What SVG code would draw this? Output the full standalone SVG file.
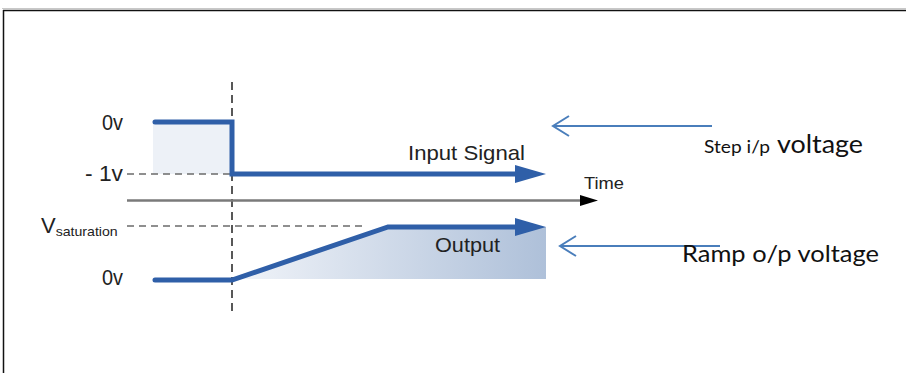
<svg xmlns="http://www.w3.org/2000/svg" width="906" height="373" viewBox="0 0 906 373">
<defs>
<linearGradient id="outGrad" x1="232" y1="0" x2="547" y2="0" gradientUnits="userSpaceOnUse">
<stop offset="0" stop-color="#f1f4f9"/>
<stop offset="1" stop-color="#aec0d9"/>
</linearGradient>
<style>
.lbl{font-family:"Liberation Sans",Arial,sans-serif;fill:#222;}
.note{font-family:Lato,"Open Sans",sans-serif;fill:#111;}
.sig{fill:none;stroke:#2f5fa8;stroke-width:5;stroke-linejoin:miter;stroke-linecap:round;}
.head{fill:#2f5fa8;}
.guide{fill:none;stroke:#6b6b6b;stroke-width:1.6;stroke-dasharray:7 5;}
.ptr{fill:none;stroke:#4a7ebb;stroke-width:2;}
</style>
</defs>
<rect width="906" height="373" fill="#fff"/>
<g id="frame">
<line x1="2" y1="8.5" x2="906" y2="8.5" stroke="#c8c8c8" stroke-width="1"/>
<line x1="3" y1="10.5" x2="906" y2="10.5" stroke="#111" stroke-width="1.5"/>
<line x1="3.5" y1="10" x2="3.5" y2="373" stroke="#111" stroke-width="1.5"/>
</g>
<g id="fills">
<rect x="153" y="122" width="79" height="52" fill="#edf1f7"/>
<polygon points="232,280 388,227 546,227 546,279 232,279" fill="url(#outGrad)"/>
</g>
<g id="connectors">
<line class="guide" x1="127" y1="174" x2="232" y2="174"/>
<line class="guide" x1="127" y1="226" x2="366" y2="226"/>
<line x1="232" y1="82" x2="232" y2="313" stroke="#222" stroke-width="1.5" stroke-dasharray="8 5"/>
<line x1="127" y1="200.5" x2="582" y2="200.5" stroke="#7a7a7a" stroke-width="2.5"/>
<polygon points="580,195 598,200.5 580,206" fill="#000"/>
</g>
<g id="input-signal">
<polyline class="sig" points="155,122 232,122 232,174 518,174"/>
<polygon class="head" points="515,165 546,174 515,183"/>
</g>
<g id="output-signal">
<polyline class="sig" points="155,280 232,280 388,227 518,227"/>
<polygon class="head" points="515,218 546,227 515,236"/>
</g>
<g id="labels">
<text class="lbl" x="102" y="130" font-size="22" textLength="21" lengthAdjust="spacingAndGlyphs">0v</text>
<text class="lbl" x="85" y="181" font-size="22" textLength="38" lengthAdjust="spacingAndGlyphs">- 1v</text>
<text class="lbl" x="41" y="233" font-size="22">V<tspan font-size="13" dy="3" textLength="62" lengthAdjust="spacingAndGlyphs">saturation</tspan></text>
<text class="lbl" x="102" y="285" font-size="22" textLength="21" lengthAdjust="spacingAndGlyphs">0v</text>
<text class="lbl" x="408" y="160" font-size="21" textLength="117" lengthAdjust="spacingAndGlyphs">Input Signal</text>
<text class="lbl" x="435" y="252" font-size="21" textLength="65" lengthAdjust="spacingAndGlyphs">Output</text>
<text class="lbl" x="584" y="189" font-size="17" textLength="40" lengthAdjust="spacingAndGlyphs">Time</text>
</g>
<g id="step-note">
<line class="ptr" x1="712" y1="126" x2="553" y2="126"/>
<polyline class="ptr" points="569,116 553,126 569,136"/>
<text class="note" x="704" y="153" font-size="18" textLength="66" lengthAdjust="spacingAndGlyphs">Step i/p</text>
<text class="note" x="777" y="153" font-size="25" textLength="86" lengthAdjust="spacingAndGlyphs">voltage</text>
</g>
<g id="ramp-note">
<line class="ptr" x1="720" y1="246" x2="560" y2="246"/>
<polyline class="ptr" points="576,236 560,246 576,256"/>
<text class="note" x="682" y="262" font-size="24" textLength="197" lengthAdjust="spacingAndGlyphs">Ramp o/p voltage</text>
</g>
</svg>
